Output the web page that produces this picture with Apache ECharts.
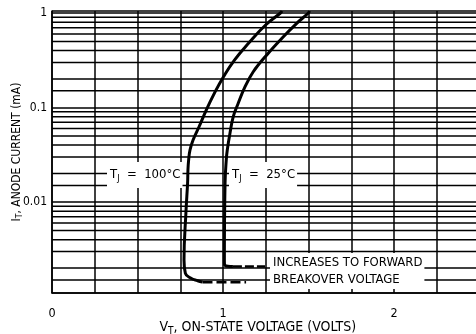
<!DOCTYPE html>
<html>
<head>
<meta charset="utf-8">
<script src="https://cdn.jsdelivr.net/npm/echarts@6/dist/echarts.min.js"></script>
<style>
  html, body { margin: 0; padding: 0; background: #fff; }
  #chart { width: 476px; height: 334px; }
</style>
</head>
<body>
<div id="chart"></div>
<script>
// On-state characteristics: anode current vs. on-state voltage
const FONT = '"Liberation Sans Narrow", "DejaVu Sans Condensed", "Liberation Sans", sans-serif';

// T_J = 100°C curve (volts, mA)
const hotVolts = [0.880, 0.852, 0.813, 0.780, 0.772, 0.784, 0.793, 0.795, 0.799, 0.807, 0.825, 0.860, 0.902, 0.950, 1.003, 1.067, 1.149, 1.249, 1.336, 1.345];
const hotAmps  = [0.00142, 0.00147, 0.00156, 0.00176, 0.00243, 0.00823, 0.0159, 0.0218, 0.0278, 0.0355, 0.0453, 0.0626, 0.094, 0.142, 0.212, 0.318, 0.478, 0.746, 1.0, 1.05];
// dashed continuation toward breakover
const hotTailVolts = [0.880, 1.135];
const hotTailAmps  = [0.00142, 0.00142];

// T_J = 25°C curve (volts, mA)
const roomVolts = [1.058, 1.029, 1.009, 1.008, 1.012, 1.019, 1.025, 1.041, 1.060, 1.089, 1.129, 1.177, 1.256, 1.353, 1.431, 1.499, 1.506];
const roomAmps  = [0.00208, 0.00209, 0.00218, 0.00243, 0.0159, 0.0278, 0.0355, 0.0537, 0.080, 0.111, 0.166, 0.239, 0.36, 0.561, 0.778, 1.0, 1.05];
const roomTailVolts = [1.058, 1.246];
const roomTailAmps  = [0.00208, 0.00208];

// log grid: intermediate current lines within each decade (mA)
const minorGridAmps = [
  0.0015, 0.002, 0.003, 0.004, 0.005, 0.006, 0.007, 0.008, 0.009,
  0.015, 0.02, 0.03, 0.04, 0.05, 0.06, 0.07, 0.08, 0.09,
  0.15, 0.2, 0.3, 0.4, 0.5, 0.6, 0.7, 0.8, 0.9
];

// axis ranges
const voltRange = [0, 2.5];
const voltStep = 0.25;
const ampRange = [0.00109, 1.05];

const zip = (xs, ys) => xs.map((x, i) => [x, ys[i]]);

const INK = '#000';
const gridLine = { color: INK, width: 1.5, type: 'solid' };
const txt = { fontFamily: FONT, fontSize: 13, color: INK };
const subRich = (size, subSize, drop) => ({
  a: { ...txt, fontSize: size },
  s: { ...txt, fontSize: subSize, padding: [drop, 0, 0, 0] }
});

// one full-width horizontal rule per intermediate current value
const minorGridSeries = minorGridAmps.map(v => ({
  type: 'line', silent: true, z: 1, symbol: 'none', showSymbol: false,
  lineStyle: gridLine,
  data: [[voltRange[0], v], [voltRange[1], v]]
}));

const chart = echarts.init(document.getElementById('chart'), null, { renderer: 'canvas' });

chart.setOption({
  animation: false,
  backgroundColor: '#fff',
  grid: { left: 52, top: 11, bottom: 41, right: -3.5, containLabel: false, outerBoundsMode: 'none' },
  xAxis: {
    type: 'value',
    min: voltRange[0], max: voltRange[1], interval: voltStep,
    axisLine: { show: true, lineStyle: gridLine },
    axisTick: { show: false },
    splitLine: { show: true, lineStyle: gridLine },
    axisLabel: {
      ...txt, fontSize: 12.5, margin: 14,
      formatter: v => (Math.abs(v - Math.round(v)) < 1e-9 && v < 2.5) ? String(Math.round(v)) : ''
    },
    name: '{a|V}{s|T}{a|, ON-STATE VOLTAGE (VOLTS)}',
    nameLocation: 'middle', nameGap: 26, nameMoveOverlap: false,
    nameTextStyle: { padding: [0, 16, 0, 0], rich: subRich(14, 10, 7) }
  },
  yAxis: {
    type: 'log', logBase: 10,
    min: ampRange[0], max: ampRange[1],
    axisLine: { show: true, lineStyle: gridLine },
    axisTick: { show: false },
    splitLine: { show: true, lineStyle: gridLine },
    axisLabel: {
      ...txt, fontSize: 12, margin: 5, showMinLabel: false, showMaxLabel: false,
      formatter: v => {
        const e = Math.round(Math.log10(v));
        if (Math.abs(Math.log10(v) - e) > 1e-6) return '';
        return e === 0 ? '1' : (e === -1 ? '0.1' : (e === -2 ? '0.01' : ''));
      }
    },
    name: '{a|I}{s|T}{a|, ANODE CURRENT (mA)}',
    nameLocation: 'middle', nameGap: 28, nameRotate: 90, nameMoveOverlap: false,
    nameTextStyle: { rich: subRich(12, 8.5, 6) }
  },
  series: [
    ...minorGridSeries,
    {
      name: 'TJ 100', type: 'line', z: 4, smooth: 0.45, showSymbol: false, symbol: 'none',
      lineStyle: { color: INK, width: 3 },
      data: zip(hotVolts, hotAmps)
    },
    {
      name: 'TJ 100 tail', type: 'line', z: 4, showSymbol: false, symbol: 'none',
      lineStyle: { color: INK, width: 2.5, type: [10, 4] },
      data: zip(hotTailVolts, hotTailAmps)
    },
    {
      name: 'TJ 25', type: 'line', z: 4, smooth: 0.4, showSymbol: false, symbol: 'none',
      lineStyle: { color: INK, width: 3 },
      data: zip(roomVolts, roomAmps)
    },
    {
      name: 'TJ 25 tail', type: 'line', z: 4, showSymbol: false, symbol: 'none',
      lineStyle: { color: INK, width: 2.5, type: [9, 3] },
      data: zip(roomTailVolts, roomTailAmps)
    }
  ],
  graphic: [
    {
      type: 'text', z: 3, x: 107, y: 175,
      style: {
        text: '{a|T}{s|J}{a|  =  100°C}',
        verticalAlign: 'middle', align: 'left',
        backgroundColor: '#fff', padding: [5, 2, 5, 3],
        rich: subRich(13, 9, 7)
      }
    },
    {
      type: 'text', z: 3, x: 229, y: 175,
      style: {
        text: '{a|T}{s|J}{a|  =  25°C}',
        verticalAlign: 'middle', align: 'left',
        backgroundColor: '#fff', padding: [5, 2, 5, 3],
        rich: subRich(13, 9, 7)
      }
    },
    {
      type: 'text', z: 3, x: 270, y: 271,
      style: {
        text: 'INCREASES TO FORWARD\nBREAKOVER VOLTAGE',
        verticalAlign: 'middle', align: 'left',
        font: '13px ' + FONT, fill: INK, lineHeight: 17,
        backgroundColor: '#fff', padding: [1, 2, 1, 3]
      }
    }
  ]
});
</script>
</body>
</html>
